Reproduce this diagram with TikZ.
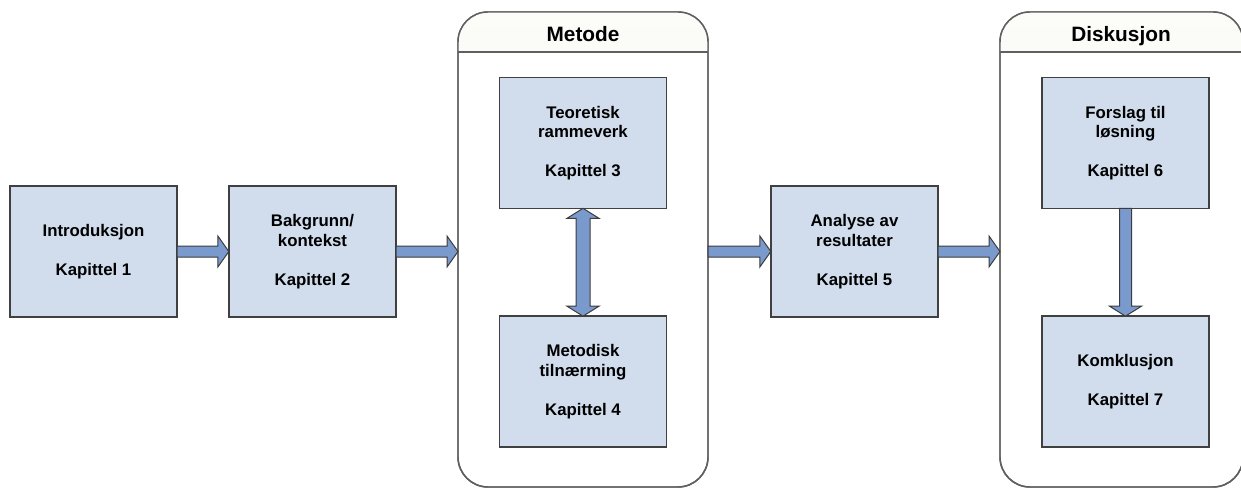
\documentclass[tikz,border=0pt]{standalone}
\usepackage{fontspec}
\setmainfont{Liberation Sans}
\usetikzlibrary{calc}

\definecolor{boxfill}{RGB}{209,221,237}
\definecolor{boxline}{RGB}{64,64,64}
\definecolor{arrowfill}{RGB}{122,154,206}
\definecolor{arrowline}{RGB}{60,60,60}
\definecolor{frameline}{RGB}{95,95,95}
\definecolor{headtop}{RGB}{252,252,249}
\definecolor{headbot}{RGB}{236,236,226}

% block arrow pointing right, from #1 to tip #2
\newcommand{\rightblock}[2]{%
  \draw[blockarrow] ($(#1)+(0,-5.5)$) -- ($(#2)+(-11,-5.5)$) -- ($(#2)+(-11,-15.5)$)
    -- (#2) -- ($(#2)+(-11,15.5)$) -- ($(#2)+(-11,5.5)$) -- ($(#1)+(0,5.5)$) -- cycle;}
% block arrow pointing down, from #1 to tip #2
\newcommand{\downblock}[2]{%
  \draw[blockarrow] ($(#1)+(-6,0)$) -- ($(#2)+(-6,-10)$) -- ($(#2)+(-16,-10)$)
    -- (#2) -- ($(#2)+(16,-10)$) -- ($(#2)+(6,-10)$) -- ($(#1)+(6,0)$) -- cycle;}
% vertical two-headed block arrow between tips #1 (top) and #2 (bottom)
\newcommand{\updownblock}[2]{%
  \draw[blockarrow] (#1) -- ($(#1)+(16,10)$) -- ($(#1)+(7,10)$) -- ($(#2)+(7,-10)$)
    -- ($(#2)+(16,-10)$) -- (#2) -- ($(#2)+(-16,-10)$) -- ($(#2)+(-7,-10)$)
    -- ($(#1)+(-7,10)$) -- ($(#1)+(-16,10)$) -- cycle;}

\begin{document}
\begin{tikzpicture}[x=0.75pt,y=-0.75pt,
  chapter/.style={draw=boxline, line width=1.1pt, fill=boxfill,
    minimum width=125.5pt, minimum height=98pt, inner sep=0pt, outer sep=0pt,
    align=center, font=\bfseries\fontsize{12.6}{14.6}\selectfont},
  container/.style={draw=frameline, line width=1.1pt, fill=white,
    rounded corners=22.5pt, minimum height=356.25pt, inner sep=0pt, outer sep=0pt},
  frame/.style={draw=frameline, line width=1.1pt},
  header/.style={anchor=base, font=\bfseries\fontsize{15.6}{18}\selectfont},
  blockarrow/.style={fill=arrowfill, draw=arrowline, line width=0.75pt, line join=miter}]

\useasboundingbox (0,0) rectangle (1241,489);
\clip (0,0) rectangle (1241,489);

% group frames
\node[container, minimum width=187.5pt] (metode) at (583,249.5) {};
\node[container, minimum width=182.25pt] (diskusjon) at (1121.5,249.5) {};

\foreach \grp in {metode,diskusjon}{
  \begin{scope}
    \clip (\grp.north west) rectangle ($(\grp.north east)+(0,40)$);
    \shade[top color=headtop, bottom color=headbot, rounded corners=22.5pt]
      (\grp.north west) rectangle (\grp.south east);
  \end{scope}
  \draw[frame, rounded corners=22.5pt] (\grp.north west) rectangle (\grp.south east);
  \draw[frame] ($(\grp.north west)+(0,40)$) -- ($(\grp.north east)+(0,40)$);
}

\node[header] (metodetitle) at (583,41) {Metode};
\node[header] (diskusjontitle) at (1121,41) {Diskusjon};

% chapter boxes
\node[chapter] (b1) at (93.5,251.5) {Introduksjon\\[14.6pt]Kapittel 1};
\node[chapter] (b2) at (312.5,251.5) {Bakgrunn/\\kontekst\\[14.6pt]Kapittel 2};
\node[chapter] (b3) at (583,143) {Teoretisk\\rammeverk\\[14.6pt]Kapittel 3};
\node[chapter] (b4) at (583,381.5) {Metodisk\\tilnærming\\[14.6pt]Kapittel 4};
\node[chapter] (b5) at (854.5,251.5) {Analyse av\\resultater\\[14.6pt]Kapittel 5};
\node[chapter] (b6) at (1125.5,143) {Forslag til\\løsning\\[14.6pt]Kapittel 6};
\node[chapter] (b7) at (1125.5,381.5) {Komklusjon\\[14.6pt]Kapittel 7};

% connection points on the frame edges
\coordinate (metodein) at (metode.west |- b2.east);
\coordinate (metodeout) at (metode.east |- b5.west);
\coordinate (diskusjonin) at (diskusjon.west |- b5.east);

% arrows
\rightblock{b1.east}{b2.west}
\rightblock{b2.east}{metodein}
\rightblock{metodeout}{b5.west}
\rightblock{b5.east}{diskusjonin}
\updownblock{b3.south}{b4.north}
\downblock{b6.south}{b7.north}

\end{tikzpicture}
\end{document}
